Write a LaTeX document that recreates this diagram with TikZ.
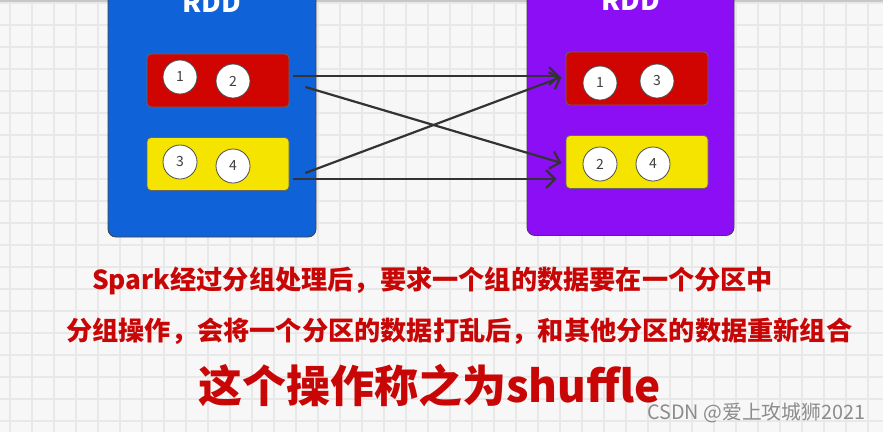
\documentclass[tikz,border=0pt]{standalone}
\usepackage{fontspec}
\usepackage{xcolor}
\usetikzlibrary{arrows.meta,positioning}
\newfontfamily\cjk{Noto Sans CJK SC}
\definecolor{rddblue}{RGB}{16,98,216}
\definecolor{rddpurple}{RGB}{140,14,245}
\definecolor{partred}{RGB}{208,4,0}
\definecolor{partyellow}{RGB}{244,228,0}
\definecolor{notered}{RGB}{200,6,6}
\definecolor{gridline}{RGB}{232,232,232}
\definecolor{canvas}{RGB}{247,247,247}
\tikzset{
rddbox/.style = {draw=black!75, line width=0.8pt, rounded corners=8pt,
                 minimum height=251pt, inner sep=0pt},
rddtitle/.style = {text=white, inner sep=0pt, anchor=base,
                   font=\cjk\bfseries\fontsize{27}{27}\selectfont},
partbox/.style = {draw=black!60, line width=0.8pt, rounded corners=4pt,
                  minimum width=142pt, minimum height=53pt, inner sep=0pt},
datum/.style = {circle, draw=black!70, fill=white, line width=0.8pt,
                minimum size=34pt, inner sep=0pt, text=black!75,
                font=\cjk\fontsize{14}{14}\selectfont},
shuf/.style = {draw=black!80, line width=2.2pt,
               -{Straight Barb[length=9pt,width=18pt]}},
note/.style = {anchor=west, inner sep=0pt, text=notered,
               font=\cjk\bfseries\fontsize{26.2}{30}\selectfont},
watermark/.style = {anchor=west, inner sep=0pt, text=black!45,
                    font=\cjk\fontsize{19.8}{20}\selectfont}
}
\begin{document}
\begin{tikzpicture}[x=1pt,y=-1pt]
  \useasboundingbox (0,0) rectangle (883,432);
  \clip (0,0) rectangle (883,432);
  % canvas with grid
  \fill[canvas] (0,0) rectangle (883,432);
  \foreach \gx in {10,32,...,880} {
    \draw[gridline, line width=1.2pt] (\gx,0) -- (\gx,432);
  }
  \foreach \gy in {3,25,...,432} {
    \draw[gridline, line width=1.2pt] (0,\gy) -- (883,\gy);
  }
  \fill[black!22] (0,0) rectangle (883,1.5);

  % the two RDDs
  \node[rddbox, fill=rddblue, minimum width=208pt] (rddL) at (212,111.5) {};
  \node[rddbox, fill=rddpurple, minimum width=207pt] (rddR) at (630.5,110) {};
  \node[rddtitle] (titleL) at (212,12) {RDD};
  \node[rddtitle] (titleR) at (630.5,10) {RDD};

  % partitions
  \node[partbox, fill=partred] (partL1) at (218,80.5) {};
  \node[partbox, fill=partyellow] (partL2) at (218,164) {};
  \node[partbox, fill=partred] (partR1) at (637,78.5) {};
  \node[partbox, fill=partyellow] (partR2) at (637,162) {};

  \foreach \n/\x/\y in {1/180/77, 2/233/81, 3/180/162, 4/233/166} {
    \node[datum] (cL\n) at (\x,\y) {\n};
  }
  \foreach \n/\x/\y in {1/600/83, 3/657/81, 2/600/164, 4/653/164} {
    \node[datum] (cR\n) at (\x,\y) {\n};
  }

  % shuffle
  \draw[shuf] ([xshift=4pt,yshift=4.5pt]partL1.east) -- ([xshift=-6pt,yshift=2.5pt]partR1.west);
  \draw[shuf] ([xshift=16pt,yshift=-6.5pt]partL1.east) -- ([xshift=-4pt,yshift=-1pt]partR2.west);
  \draw[shuf] ([xshift=16pt,yshift=-9pt]partL2.east) -- ([xshift=-4pt,yshift=1.5pt]partR1.west);
  \draw[shuf] ([xshift=4pt,yshift=-15pt]partL2.east) -- ([xshift=-9pt,yshift=-17pt]partR2.west);

  \node[note] (line1) at (92,281) {Spark经过分组处理后，要求一个组的数据要在一个分区中};
  \node[note] (line2) at (66,331) {分组操作，会将一个分区的数据打乱后，和其他分区的数据重新组合};
  \node[note, font=\cjk\bfseries\fontsize{44}{48}\selectfont] (line3) at (198,386) {这个操作称之为shuffle};
  \node[watermark] (csdn) at (647,413) {CSDN @爱上攻城狮2021};
\end{tikzpicture}
\end{document}
